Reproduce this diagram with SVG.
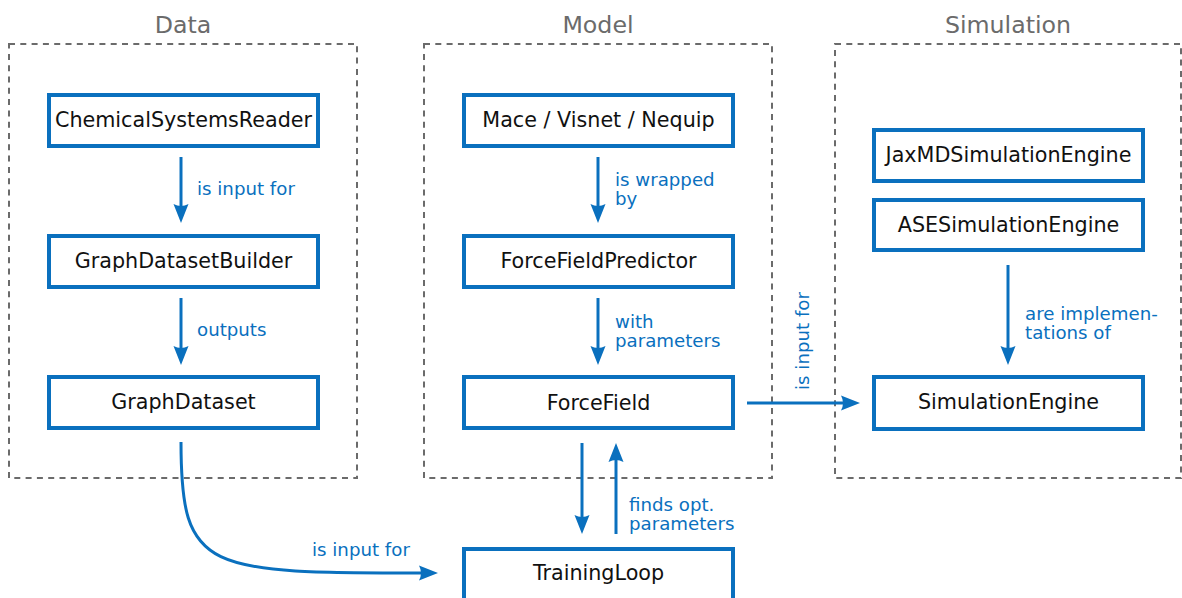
<svg xmlns="http://www.w3.org/2000/svg" width="1182" height="598" viewBox="0 0 1182 598">
  <style>
    .group { fill: none; stroke: #6b6b6b; stroke-width: 2; stroke-dasharray: 6 5.3; }
    .title { font-family: "DejaVu Sans", sans-serif; font-size: 23.7px; fill: #6b6b6b; text-anchor: middle; }
    .node rect { fill: #ffffff; stroke: #0a70be; stroke-width: 4; }
    .node text { font-family: "DejaVu Sans", sans-serif; font-size: 20.7px; fill: #111111; text-anchor: middle; }
    .edge { fill: none; stroke: #0a70be; stroke-width: 3; marker-end: url(#head); }
    .lbl { font-family: "DejaVu Sans", sans-serif; font-size: 18.2px; fill: #0a70be; }
  </style>
  <defs>
    <marker id="head" viewBox="-10 -9 22 18" refX="0" refY="0" markerWidth="22" markerHeight="18" markerUnits="userSpaceOnUse" orient="auto">
      <path d="M10,0 L-9,-7.5 Q-5,0 -9,7.5 Z" fill="#0a70be"/>
    </marker>
  </defs>
  <rect width="1182" height="598" fill="#ffffff"/>

  <!-- dashed group frames -->
  <g id="groups">
    <rect class="group" x="9" y="44" width="348" height="434"/>
    <rect class="group" x="424" y="44" width="348" height="434"/>
    <rect class="group" x="835" y="44" width="346" height="434"/>
    <text class="title" x="183" y="33">Data</text>
    <text class="title" x="598" y="33">Model</text>
    <text class="title" x="1008" y="33">Simulation</text>
  </g>

  <!-- connectors -->
  <g id="connectors">
    <line class="edge" x1="181" y1="157" x2="181" y2="213"/>
    <text class="lbl" x="197" y="195">is input for</text>
    <line class="edge" x1="181" y1="298" x2="181" y2="355"/>
    <text class="lbl" x="197" y="336">outputs</text>

    <line class="edge" x1="598" y1="157" x2="598" y2="213"/>
    <text class="lbl" x="615" y="186">is wrapped</text>
    <text class="lbl" x="615" y="205">by</text>
    <line class="edge" x1="598" y1="298" x2="598" y2="355"/>
    <text class="lbl" x="615" y="328">with</text>
    <text class="lbl" x="615" y="347">parameters</text>

    <line class="edge" x1="1008" y1="265" x2="1008" y2="355"/>
    <text class="lbl" x="1025" y="320">are implemen-</text>
    <text class="lbl" x="1025" y="339">tations of</text>

    <line class="edge" x1="747" y1="403" x2="850" y2="403"/>
    <text class="lbl" transform="translate(809,341) rotate(-90)" text-anchor="middle">is input for</text>

    <line class="edge" x1="582" y1="443" x2="582" y2="524"/>
    <line class="edge" x1="616" y1="534" x2="616" y2="453"/>
    <text class="lbl" x="629" y="511">finds opt.</text>
    <text class="lbl" x="629" y="530">parameters</text>

    <path class="edge" d="M181,442 C181,573 205,573 428,573"/>
    <text class="lbl" x="312" y="556">is input for</text>
  </g>

  <!-- nodes -->
  <g id="chemical-systems-reader" class="node">
    <rect x="49" y="95" width="269" height="51"/>
    <text x="183.5" y="127">ChemicalSystemsReader</text>
  </g>
  <g id="graph-dataset-builder" class="node">
    <rect x="49" y="236" width="269" height="51"/>
    <text x="183.5" y="268">GraphDatasetBuilder</text>
  </g>
  <g id="graph-dataset" class="node">
    <rect x="49" y="377" width="269" height="51"/>
    <text x="183.5" y="409">GraphDataset</text>
  </g>

  <g id="mace-visnet-nequip" class="node">
    <rect x="464" y="95" width="269" height="51"/>
    <text x="598.5" y="127">Mace / Visnet / Nequip</text>
  </g>
  <g id="force-field-predictor" class="node">
    <rect x="464" y="236" width="269" height="51"/>
    <text x="598.5" y="268">ForceFieldPredictor</text>
  </g>
  <g id="force-field" class="node">
    <rect x="464" y="377" width="269" height="51"/>
    <text x="598.5" y="410">ForceField</text>
  </g>

  <g id="jaxmd-simulation-engine" class="node">
    <rect x="874" y="130" width="269" height="51"/>
    <text x="1008.5" y="162">JaxMDSimulationEngine</text>
  </g>
  <g id="ase-simulation-engine" class="node">
    <rect x="874" y="200" width="269" height="50"/>
    <text x="1008.5" y="232">ASESimulationEngine</text>
  </g>
  <g id="simulation-engine" class="node">
    <rect x="874" y="377" width="269" height="52"/>
    <text x="1008.5" y="409">SimulationEngine</text>
  </g>

  <g id="training-loop" class="node">
    <rect x="464" y="549" width="269" height="54"/>
    <text x="598.5" y="580">TrainingLoop</text>
  </g>
</svg>
